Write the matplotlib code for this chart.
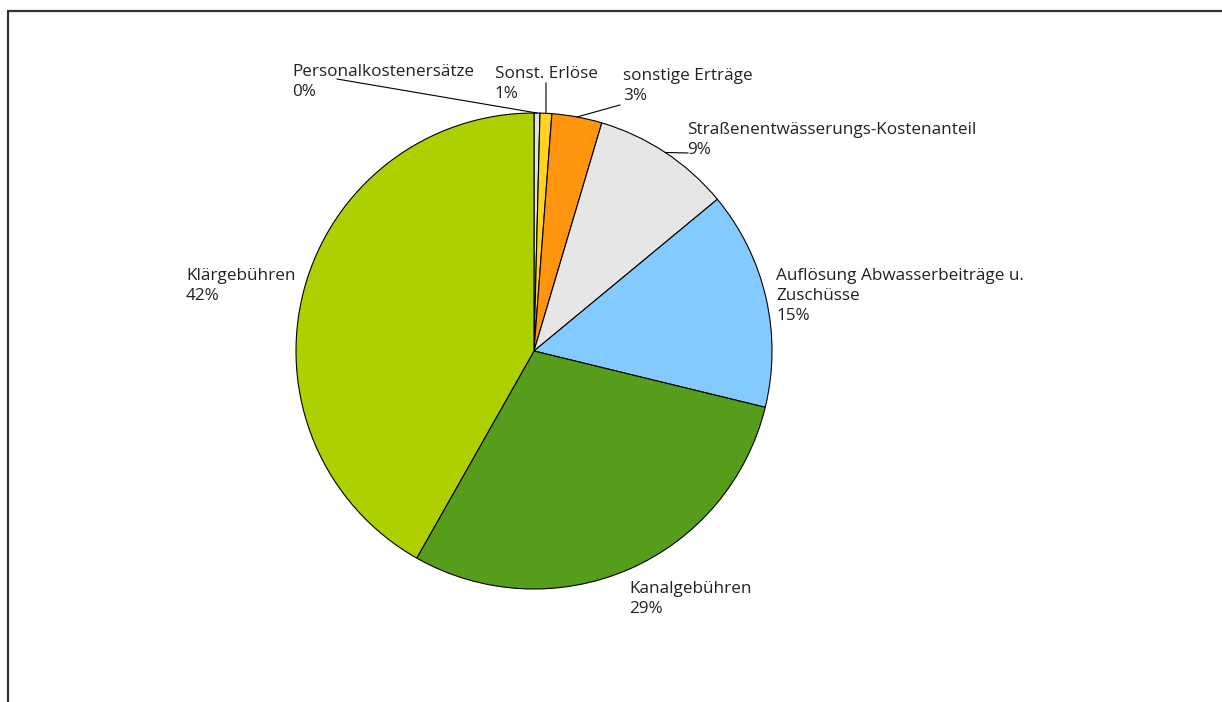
import numpy as np
import matplotlib.pyplot as plt

plt.rcParams['font.family'] = ['Open Sans', 'DejaVu Sans']

# Erlösanteile in Prozent (im Uhrzeigersinn ab 12 Uhr)
categories = ['Personalkostenersätze', 'Sonst. Erlöse', 'sonstige Erträge',
              'Straßenentwässerungs-Kostenanteil',
              'Auflösung Abwasserbeiträge u.\nZuschüsse',
              'Kanalgebühren', 'Klärgebühren']
shares = [0.4, 0.8, 3.4, 9.4, 14.8, 29.4, 41.8]
colors = ['#E2E2E2', '#FFD320', '#FF950E', '#E6E6E6', '#83CAFF', '#579D1C', '#AECF00']

W, H = 1222, 702
fig = plt.figure(figsize=(W / 100, H / 100), dpi=100)
ax = fig.add_axes([0, 0, 1, 1])


def fy(y):
    # Bildzeile (von oben) -> Datenkoordinate (von unten)
    return H - y


cx, cy, r = 534, fy(351), 238

wedges, _ = ax.pie(shares, colors=colors, startangle=90, counterclock=False,
                   center=(cx, cy), radius=r, frame=True,
                   wedgeprops=dict(edgecolor='black', linewidth=0.8))
ax.set_xlim(0, W)
ax.set_ylim(0, H)
ax.set_aspect('auto')
ax.axis('off')

# Beschriftungen: (x, y oben) in Pixeln, Startpunkt der Führungslinie oder None
label_pos = [
    (292, 64, (337, 79)),
    (495, 66, (546, 83)),
    (623, 68, (620, 105)),
    (687, 122, (688, 153)),
    (776, 268, None),
    (629, 581, None),
    (186, 268, None),
]

for w, name, v, (tx, ty, anchor) in zip(wedges, categories, shares, label_pos):
    ax.text(tx, fy(ty), f'{name}\n{v:.0f}%', ha='left', va='top', fontsize=12.3,
            color='#222222', linespacing=1.33)
    if anchor is not None:
        mid = np.deg2rad((w.theta1 + w.theta2) / 2)
        ex = cx + r * np.cos(mid)
        ey = cy + r * np.sin(mid)
        ax.plot([anchor[0], ex], [fy(anchor[1]), ey], color='black', linewidth=0.8)

# Rahmen oben und links
ax.plot([7, W], [fy(11), fy(11)], color='#333333', linewidth=1.6, solid_capstyle='butt')
ax.plot([8, 8], [fy(11), 0], color='#333333', linewidth=1.6, solid_capstyle='butt')

fig.savefig('out.png', dpi=100)
